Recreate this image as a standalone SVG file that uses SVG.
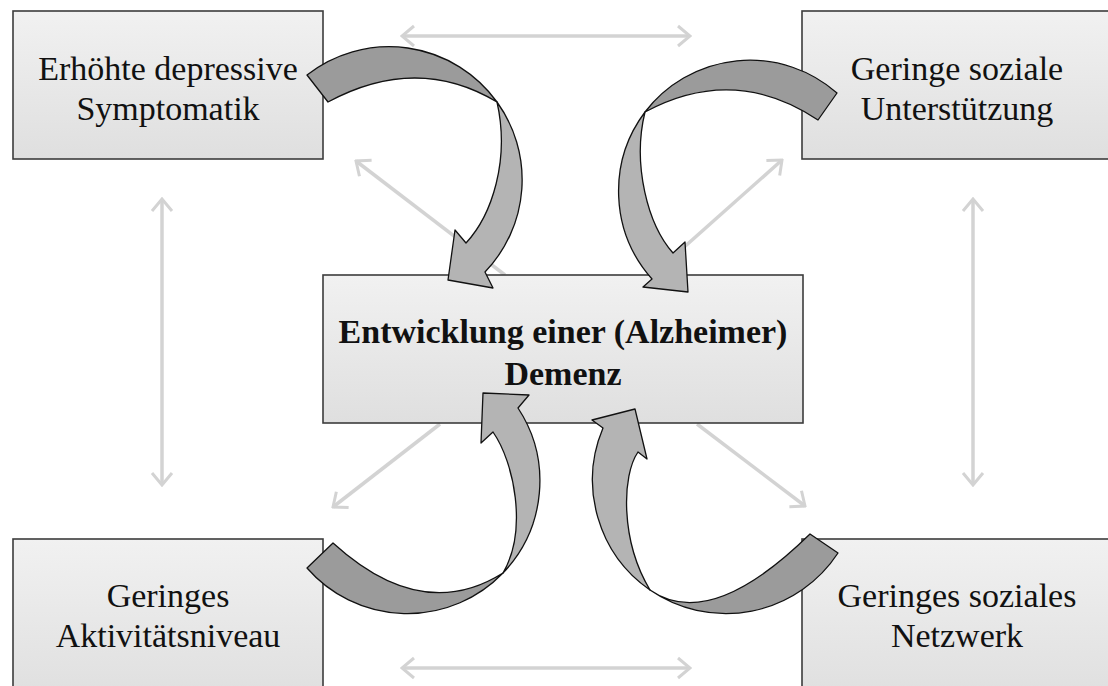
<svg xmlns="http://www.w3.org/2000/svg" width="1108" height="686" viewBox="0 0 1108 686">
  <style>
    .box { fill: url(#boxGrad); stroke: #3c3c3c; stroke-width: 1.6; }
    .lbl { font-family: "Liberation Serif", "Times New Roman", serif; font-size: 34px; fill: #111; text-anchor: middle; }
    .bold { font-weight: bold; }
    .conn { stroke: #d3d3d3; stroke-width: 3.5; fill: none; marker-end: url(#chev); }
    .both { marker-start: url(#chev); }
    .dark { fill: #9b9b9b; stroke: #111; stroke-width: 1.3; stroke-linejoin: round; }
    .light { fill: #b4b4b4; stroke: #111; stroke-width: 1.3; stroke-linejoin: round; }
  </style>
  <defs>
    <linearGradient id="boxGrad" x1="0" y1="0" x2="0" y2="1">
      <stop offset="0" stop-color="#f1f1f1"/>
      <stop offset="1" stop-color="#dfdfdf"/>
    </linearGradient>
    <marker id="chev" viewBox="0 0 16 24" refX="14" refY="12" markerWidth="16" markerHeight="24" markerUnits="userSpaceOnUse" orient="auto-start-reverse">
      <path d="M2,2 L14,12 L2,22" fill="none" stroke="#d3d3d3" stroke-width="3"/>
    </marker>
  </defs>
  <rect width="1108" height="686" fill="#ffffff"/>

  <g id="connectors">
    <line class="conn both" x1="402" y1="36" x2="690" y2="36"/>
    <line class="conn both" x1="402" y1="668" x2="690" y2="668"/>
    <line class="conn both" x1="162" y1="199" x2="162" y2="485"/>
    <line class="conn both" x1="973" y1="199" x2="973" y2="485"/>
    <line class="conn" x1="505" y1="275" x2="356" y2="161"/>
    <line class="conn" x1="655" y1="273" x2="782" y2="160"/>
    <line class="conn" x1="440" y1="424" x2="333" y2="507"/>
    <line class="conn" x1="697" y1="424" x2="805" y2="506"/>
  </g>

  <g id="node-depressive">
    <rect class="box" x="13" y="11" width="310" height="148"/>
    <text class="lbl" x="168" y="80">Erhöhte depressive</text>
    <text class="lbl" x="168" y="120">Symptomatik</text>
  </g>
  <g id="node-unterstuetzung">
    <rect class="box" x="802" y="11" width="312" height="148"/>
    <text class="lbl" x="957" y="80">Geringe soziale</text>
    <text class="lbl" x="957" y="120">Unterstützung</text>
  </g>
  <g id="node-demenz">
    <rect class="box" x="323" y="275" width="480" height="148"/>
    <text class="lbl bold" x="563" y="343">Entwicklung einer (Alzheimer)</text>
    <text class="lbl bold" x="563" y="385">Demenz</text>
  </g>
  <g id="node-aktivitaet">
    <rect class="box" x="13" y="539" width="310" height="160"/>
    <text class="lbl" x="168" y="607">Geringes</text>
    <text class="lbl" x="168" y="647">Aktivitätsniveau</text>
  </g>
  <g id="node-netzwerk">
    <rect class="box" x="802" y="539" width="312" height="160"/>
    <text class="lbl" x="957" y="607">Geringes soziales</text>
    <text class="lbl" x="957" y="647">Netzwerk</text>
  </g>

  <g id="curved-arrows">
    <!-- top-left -->
    <path class="dark" d="M307,75 A133,133 0 0 1 497,102 Q417,54 328,102 Z"/>
    <path class="light" d="M497,102 A133,133 0 0 1 485,272 L493,288 L448,280 L455,230 L466,243 C492,215 510,160 497,102 Z"/>
    <!-- top-right -->
    <path class="dark" d="M837,93 A132,132 0 0 0 645,112 Q734,64 818,120 Z"/>
    <path class="light" d="M645,112 A132,132 0 0 0 652,279 L643,287 L688,292 L685,242 L673,253 C648,225 632,165 645,112 Z"/>
    <!-- bottom-left -->
    <path class="dark" d="M307,568 A133,133 0 0 0 503,573 Q422,624 333,543 Z"/>
    <path class="light" d="M503,573 A133,133 0 0 0 518,408 L529,395 L483,393 L481,443 L493,432 C514,462 528,530 503,573 Z"/>
    <!-- bottom-right -->
    <path class="dark" d="M838,553 A134,134 0 0 1 650,590 Q710,632 810,534 Z"/>
    <path class="light" d="M650,590 A134,134 0 0 1 603,428 L592,420 L635,409 L647,459 L638,452 C622,475 620,540 650,590 Z"/>
  </g>
</svg>
